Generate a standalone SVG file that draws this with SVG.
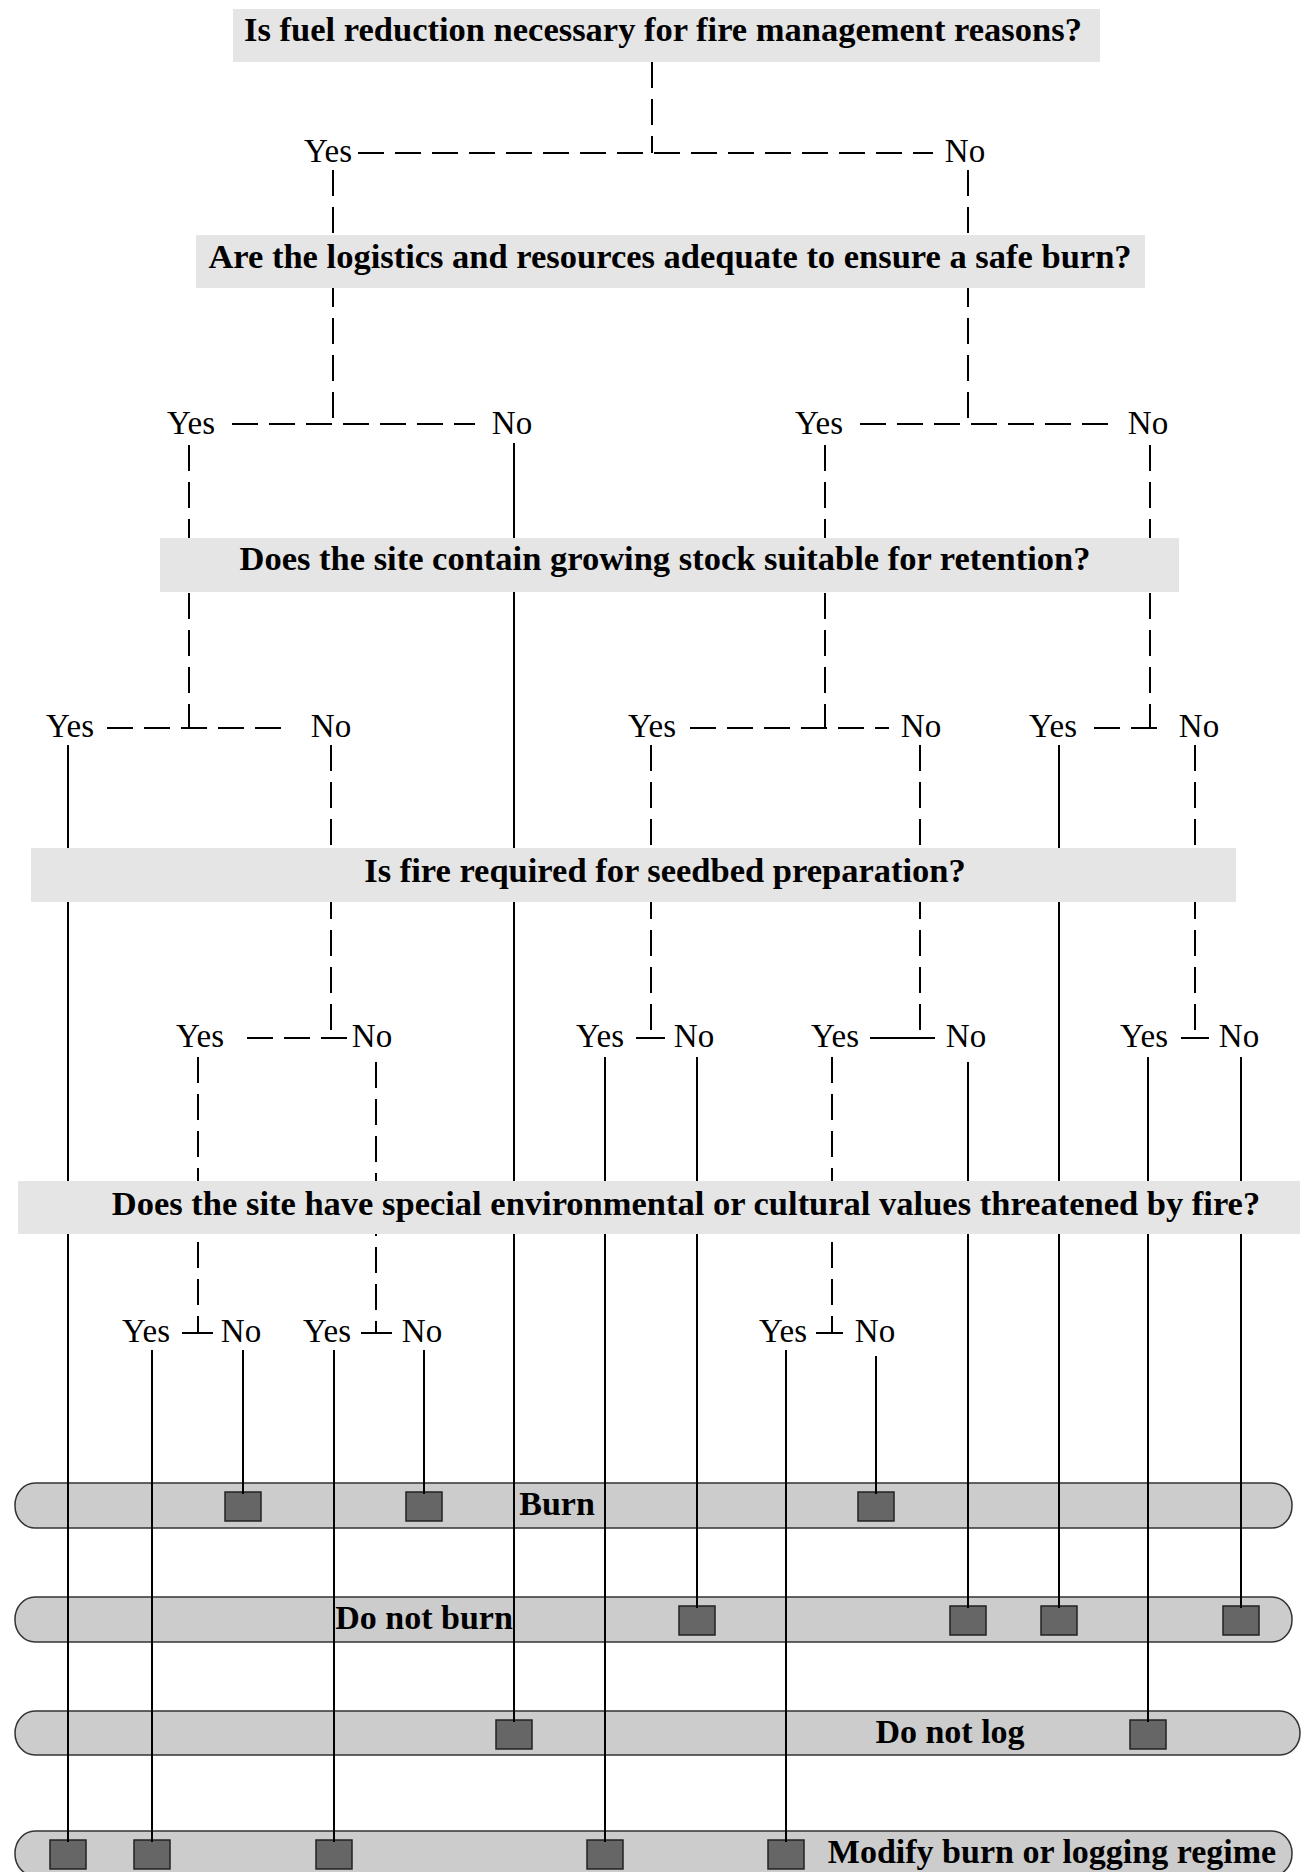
<svg xmlns="http://www.w3.org/2000/svg" width="1308" height="1872" viewBox="0 0 1308 1872">
<style>
.q{fill:#e5e5e5}
.qt{font-family:"Liberation Serif","Times New Roman",serif;font-weight:bold;font-size:34.5px;text-anchor:middle;fill:#000}
.bt{font-family:"Liberation Serif","Times New Roman",serif;font-weight:bold;font-size:34px;text-anchor:middle;fill:#000}
.lbl{font-family:"Liberation Serif","Times New Roman",serif;font-size:33px;text-anchor:middle;fill:#000}
.bar{fill:#cccccc;stroke:#333;stroke-width:1.5}
.sq{fill:#666;stroke:#222;stroke-width:1.5}
.d{stroke:#000;stroke-width:2;stroke-dasharray:26 11;fill:none}
.s{stroke:#000;stroke-width:2;fill:none}
</style>
<rect width="1308" height="1872" fill="#fff"/>
<!-- outcome bars -->
<g id="out-burn">
<rect class="bar" x="15" y="1483" width="1277" height="45" rx="20" ry="22"/>
<rect class="sq" x="225" y="1492" width="36" height="29"/>
<rect class="sq" x="406" y="1492" width="36" height="29"/>
<rect class="sq" x="858" y="1492" width="36" height="29"/>
<text class="bt" x="557" y="1515">Burn</text>
</g>
<g id="out-donotburn">
<rect class="bar" x="15" y="1597" width="1277" height="45" rx="20" ry="22"/>
<rect class="sq" x="679" y="1606" width="36" height="29"/>
<rect class="sq" x="950" y="1606" width="36" height="29"/>
<rect class="sq" x="1041" y="1606" width="36" height="29"/>
<rect class="sq" x="1223" y="1606" width="36" height="29"/>
<text class="bt" x="424" y="1629">Do not burn</text>
</g>
<g id="out-donotlog">
<rect class="bar" x="15" y="1711" width="1285" height="44" rx="20" ry="22"/>
<rect class="sq" x="496" y="1720" width="36" height="29"/>
<rect class="sq" x="1130" y="1720" width="36" height="29"/>
<text class="bt" x="950" y="1743">Do not log</text>
</g>
<g id="out-modify">
<rect class="bar" x="15" y="1831" width="1277" height="45" rx="20" ry="22"/>
<rect class="sq" x="50" y="1840" width="36" height="29"/>
<rect class="sq" x="134" y="1840" width="36" height="29"/>
<rect class="sq" x="316" y="1840" width="36" height="29"/>
<rect class="sq" x="587" y="1840" width="36" height="29"/>
<rect class="sq" x="768" y="1840" width="36" height="29"/>
<text class="bt" x="1052" y="1863">Modify burn or logging regime</text>
</g>
<!-- connectors -->
<g id="connectors">
<path class="d" d="M652 62V153"/>
<path class="d" d="M358 153H933"/>
<path class="d" d="M333 170V424"/>
<path class="d" d="M968 170V424"/>
<path class="d" d="M232 424H475"/>
<path class="d" d="M860 424H1110"/>
<path class="d" d="M189 445V728"/>
<path class="s" d="M514 443V1722"/>
<path class="d" d="M825 445V728"/>
<path class="d" d="M1150 445V728"/>
<path class="d" d="M107 728H292"/>
<path class="d" d="M690 728H889"/>
<path class="d" d="M1094 728H1168"/>
<path class="s" d="M68 745V1842"/>
<path class="d" d="M331 745V1038"/>
<path class="d" d="M651 745V1038"/>
<path class="d" d="M920 745V1038"/>
<path class="s" d="M1059 745V1608"/>
<path class="d" d="M1195 745V1038"/>
<path class="d" d="M247 1038H350"/>
<path class="s" d="M636 1038H665"/>
<path class="s" d="M870 1038H935"/>
<path class="s" d="M1181 1038H1209"/>
<path class="d" d="M198 1057V1333"/>
<path class="d" d="M376 1062V1333"/>
<path class="s" d="M605 1057V1842"/>
<path class="s" d="M697 1057V1608"/>
<path class="d" d="M832 1057V1333"/>
<path class="s" d="M968 1062V1608"/>
<path class="s" d="M1148 1057V1722"/>
<path class="s" d="M1241 1057V1608"/>
<path class="s" d="M182 1333H213"/>
<path class="s" d="M361 1333H392"/>
<path class="s" d="M816 1333H843"/>
<path class="s" d="M152 1350V1842"/>
<path class="s" d="M243 1350V1494"/>
<path class="s" d="M334 1350V1842"/>
<path class="s" d="M424 1350V1494"/>
<path class="s" d="M786 1350V1842"/>
<path class="s" d="M876 1356V1494"/>
</g>
<!-- branch labels -->
<g id="branch-labels">
<text class="lbl" x="328" y="162">Yes</text>
<text class="lbl" x="965" y="162">No</text>
<text class="lbl" x="191" y="434">Yes</text>
<text class="lbl" x="512" y="434">No</text>
<text class="lbl" x="819" y="434">Yes</text>
<text class="lbl" x="1148" y="434">No</text>
<text class="lbl" x="70" y="737">Yes</text>
<text class="lbl" x="331" y="737">No</text>
<text class="lbl" x="652" y="737">Yes</text>
<text class="lbl" x="921" y="737">No</text>
<text class="lbl" x="1053" y="737">Yes</text>
<text class="lbl" x="1199" y="737">No</text>
<text class="lbl" x="200" y="1047">Yes</text>
<text class="lbl" x="372" y="1047">No</text>
<text class="lbl" x="600" y="1047">Yes</text>
<text class="lbl" x="694" y="1047">No</text>
<text class="lbl" x="835" y="1047">Yes</text>
<text class="lbl" x="966" y="1047">No</text>
<text class="lbl" x="1144" y="1047">Yes</text>
<text class="lbl" x="1239" y="1047">No</text>
<text class="lbl" x="146" y="1342">Yes</text>
<text class="lbl" x="241" y="1342">No</text>
<text class="lbl" x="327" y="1342">Yes</text>
<text class="lbl" x="422" y="1342">No</text>
<text class="lbl" x="783" y="1342">Yes</text>
<text class="lbl" x="875" y="1342">No</text>
</g>
<!-- questions -->
<g id="q1">
<rect class="q" x="233" y="9" width="867" height="53"/>
<text class="qt" x="663" y="41">Is fuel reduction necessary for fire management reasons?</text>
</g>
<g id="q2">
<rect class="q" x="196" y="235" width="949" height="53"/>
<text class="qt" x="670" y="268">Are the logistics and resources adequate to ensure a safe burn?</text>
</g>
<g id="q3">
<rect class="q" x="160" y="538" width="1019" height="54"/>
<text class="qt" x="665" y="570">Does the site contain growing stock suitable for retention?</text>
</g>
<g id="q4">
<rect class="q" x="31" y="848" width="1205" height="54"/>
<text class="qt" x="665" y="882">Is fire required for seedbed preparation?</text>
</g>
<g id="q5">
<rect class="q" x="18" y="1181" width="1282" height="53"/>
<text class="qt" x="686" y="1215">Does the site have special environmental or cultural values threatened by fire?</text>
</g>
</svg>
